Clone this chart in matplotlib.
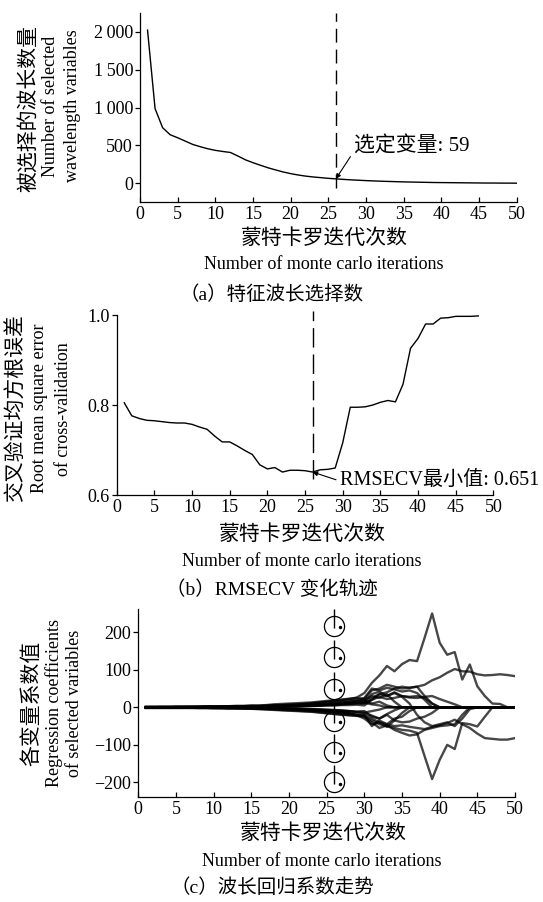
import matplotlib
matplotlib.use("Agg")
import matplotlib.pyplot as plt

plt.rcParams['font.family'] = ['Liberation Serif', 'Noto Sans CJK SC']
plt.rcParams['axes.unicode_minus'] = True

# ---------------- data ----------------
iterations = list(range(1, 51))

n_selected = [2020, 985, 734, 641, 601, 557, 513, 483, 456, 435,
              420, 407, 360, 310, 272, 238, 205, 177, 150, 128,
              110, 95, 84, 75, 66, 59, 52, 46, 41, 36,
              32, 28, 25, 22, 19, 17, 15, 13, 11, 10,
              9, 8, 7, 6, 5, 4, 4, 3, 3, 2]
sel_iter = 26
sel_vars = 59

rmsecv = [0.805, 0.776, 0.770, 0.766, 0.765, 0.763, 0.761, 0.760, 0.760, 0.757,
          0.751, 0.746, 0.731, 0.718, 0.718, 0.709, 0.699, 0.690, 0.667, 0.658,
          0.661, 0.651, 0.655, 0.655, 0.654, 0.651, 0.656, 0.657, 0.660, 0.716,
          0.795, 0.795, 0.796, 0.800, 0.806, 0.810, 0.807, 0.846, 0.926, 0.948,
          0.980, 0.980, 0.993, 0.994, 0.997, 0.997, 0.997, 0.998]
rmsecv_min = 0.651

coef_paths = [
    [1, 1, 1, 1, 1, 1, 1, 1, 2, 2, 2, 2, 3, 3, 4, 4, 5, 6, 6, 7,
     8, 9, 11, 13, 15, 17, 19, 22, 26, 38, 65, 85, 110, 96, 115, 126, 123, 185, 250, 172,
     140, 147, 74, 114, 56, 30, 10, 9, 0, 0],
    [-1, -1, -1, -1, -1, -1, -1, -2, -2, -2, -2, -3, -3, -3, -4, -4, -5, -6, -7, -8,
     -9, -10, -11, -13, -15, -17, -19, -21, -23, -24, -35, -45, -50, -55, -60, -62, -68, -130, -191, -140,
     -100, -111, -42, -45, -51, -25, 0, 0, 0, 0],
    [2, 2, 2, 2, 2, 2, 2, 2, 3, 3, 3, 3, 4, 4, 5, 5, 6, 8, 9, 10,
     11, 12, 13, 15, 17, 19, 21, 23, 25, 22, 45, 50, 60, 55, 50, 52, 55, 60, 72, 80,
     92, 102, 96, 95, 88, 85, 86, 88, 86, 83],
    [-2, -2, -2, -2, -2, -2, -2, -2, -2, -3, -3, -3, -3, -4, -4, -5, -6, -7, -8, -9,
     -10, -11, -12, -14, -16, -18, -20, -21, -22, -20, -30, -40, -45, -50, -48, -52, -55, -58, -52, -48,
     -42, -33, -45, -55, -70, -82, -84, -86, -86, -82],
    [0, 0, 1, 1, 1, 1, 1, 1, 1, 1, 2, 2, 2, 2, 3, 3, 4, 5, 6, 7,
     7, 9, 10, 12, 14, 16, 17, 19, 20, 25, 50, 45, 52, 48, 42, 45, 38, 20, 0, 0,
     0, 0, 0, 0, 0, 0, 0, 0, 0, 0],
    [0, 0, 0, 0, 1, 1, 1, 1, 1, 1, 1, 1, 2, 2, 2, 3, 3, 4, 4, 5,
     6, 7, 8, 9, 10, 11, 12, 14, 16, 15, 35, 42, 30, 40, 30, 28, 30, 25, 10, 0,
     0, 0, 0, 0, 0, 0, 0, 0, 0, 0],
    [0, 0, 0, 0, 0, 0, 1, 1, 1, 1, 1, 1, 1, 1, 2, 2, 2, 3, 3, 4,
     4, 5, 5, 6, 7, 8, 9, 10, 11, 10, 20, 28, 22, 25, 30, 26, 25, 28, 30, 22,
     15, 8, 0, 0, 0, 0, 0, 0, 0, 0],
    [0, 0, 0, 0, 0, 0, 0, 0, 0, 0, 1, 1, 1, 1, 1, 1, 2, 2, 2, 3,
     3, 3, 4, 4, 5, 5, 6, 6, 7, 5, 20, 35, 40, 50, 55, 52, 55, 30, 10, 0,
     0, 0, 0, 0, 0, 0, 0, 0, 0, 0],
    [0, 0, 0, -1, -1, -1, -1, -1, -1, -1, -1, -2, -2, -2, -2, -3, -3, -4, -5, -5,
     -6, -7, -8, -9, -10, -12, -14, -16, -19, -20, -50, -35, -45, -30, -25, -10, 0, 0, 0, 0,
     0, 0, 0, 0, 0, 0, 0, 0, 0, 0],
    [-1, -1, -1, -1, -1, -1, -1, -1, -1, -1, -2, -2, -2, -2, -3, -3, -4, -4, -5, -6,
     -7, -8, -9, -10, -11, -13, -15, -17, -21, -25, -40, -55, -48, -60, -68, -75, -72, -60, -55, -50,
     -48, -45, -20, 0, 0, 0, 0, 0, 0, 0],
    [0, 0, 0, 0, 0, 0, 0, -1, -1, -1, -1, -1, -1, -1, -2, -2, -2, -3, -3, -4,
     -4, -5, -5, -6, -7, -8, -9, -10, -11, -10, -25, -30, -20, -35, -40, -38, -30, -25, -15, 0,
     0, 0, 0, 0, 0, 0, 0, 0, 0, 0],
    [0, 0, 0, 0, 1, 1, 1, 1, 1, 1, 1, 1, 2, 2, 2, 2, 3, 3, 4, 4,
     5, 6, 7, 8, 9, 11, 13, 15, 18, 20, 30, 25, 35, 15, 0, 0, 0, 0, 0, 0,
     0, 0, 0, 0, 0, 0, 0, 0, 0, 0],
    [0, 0, 0, 0, 0, 0, 0, 0, -1, -1, -1, -1, -1, -1, -2, -2, -2, -3, -3, -3,
     -4, -5, -6, -7, -8, -9, -10, -11, -13, -15, -22, -30, -18, -8, 0, 0, 0, 0, 0, 0,
     0, 0, 0, 0, 0, 0, 0, 0, 0, 0],
    [0, 0, 0, 0, 0, 0, 0, 0, 1, 1, 1, 1, 1, 1, 1, 2, 2, 2, 3, 3,
     3, 4, 5, 6, 7, 8, 10, 12, 15, 18, 10, 15, 5, 0, 0, 0, 0, 0, 0, 0,
     0, 0, 0, 0, 0, 0, 0, 0, 0, 0],
    [0, 0, 0, 0, -1, -1, -1, -1, -1, -1, -1, -1, -2, -2, -2, -2, -3, -3, -4, -4,
     -5, -6, -7, -8, -9, -11, -13, -16, -21, -30, -45, -40, -52, -35, -15, 0, 0, 0, 0, 0,
     0, 0, 0, 0, 0, 0, 0, 0, 0, 0],
    [0, 0, 0, 0, 0, 0, 0, 1, 1, 1, 1, 1, 1, 1, 2, 2, 2, 3, 3, 3,
     4, 4, 5, 6, 7, 8, 9, 10, 11, 12, 25, 35, 30, 38, 28, 10, -20, -40, -50, -45,
     -40, -50, -30, -5, 0, 0, 0, 0, 0, 0],
    [0, 0, 0, 0, 0, 0, 0, 0, 0, 0, 0, 1, 1, 1, 1, 1, 2, 2, 2, 3,
     3, 3, 4, 4, 5, 6, 7, 9, 11, 12, 8, 5, 0, 0, 0, 0, 0, 0, 0, 0,
     0, 0, 0, 0, 0, 0, 0, 0, 0, 0],
    [0, 0, 0, 0, 0, 0, 0, 0, 0, 0, 0, 0, -1, -1, -1, -1, -2, -2, -2, -3,
     -3, -4, -4, -5, -6, -7, -8, -10, -13, -14, -10, -6, 0, 0, 0, 0, 0, 0, 0, 0,
     0, 0, 0, 0, 0, 0, 0, 0, 0, 0],
]
marker_y = [217, 133, 48, -36, -118, -200]

xticks = [0, 5, 10, 15, 20, 25, 30, 35, 40, 45, 50]
yticks_a = [0, 500, 1000, 1500, 2000]
ytick_labels_a = ['0', '500', '1\u2009000', '1\u2009500', '2\u2009000']
yticks_b = [0.6, 0.8, 1.0]
ytick_labels_b = ['0.6', '0.8', '1.0']
yticks_c = [-200, -100, 0, 100, 200]

# ---------------- figure ----------------
W, H = 543, 902
fig = plt.figure(figsize=(W / 100, H / 100), dpi=100)

def fx(px):
    return px / W

def fy(py):
    return 1 - py / H

ax_a = fig.add_axes([fx(140), fy(202.3), fx(376.7), (202.3 - 12.7) / H])
ax_b = fig.add_axes([fx(116.7), fy(495), fx(376.7), (495 - 315) / H])
ax_c = fig.add_axes([fx(138.3), fy(796.7), fx(376.7), (796.7 - 609.3) / H])

TICK_FS = 13

def style(ax):
    for s in ['top', 'right']:
        ax.spines[s].set_visible(False)
    for s in ['left', 'bottom']:
        ax.spines[s].set_linewidth(0.9)
    ax.tick_params(axis='x', direction='in', length=3.5, width=0.9, pad=3, labelsize=TICK_FS)
    ax.tick_params(axis='y', direction='out', length=3.5, width=0.9, pad=1.5, labelsize=TICK_FS)
    ax.set_xlim(0, 50)
    ax.set_xticks(xticks)

# Panel a
style(ax_a)
ax_a.plot(iterations, n_selected, color='k', lw=1.0)
ax_a.set_ylim(-250, 2250)
ax_a.set_yticks(yticks_a)
ax_a.set_yticklabels(ytick_labels_a)
ax_a.plot([sel_iter, sel_iter], [-60, 2250], color='k', lw=1.0,
          linestyle=(0, (10, 5)), clip_on=False)
ax_a.annotate('选定变量: %d' % sel_vars, xy=(sel_iter, sel_vars), xytext=(28.4, 490),
              fontsize=15, ha='left', va='center',
              arrowprops=dict(arrowstyle='-|>', color='k', lw=0.8, mutation_scale=7,
                              shrinkA=1, shrinkB=0, relpos=(0, 0.25)))

# Panel b
style(ax_b)
ax_b.plot(iterations[:len(rmsecv)], rmsecv, color='k', lw=1.0)
ax_b.set_ylim(0.6, 1.0)
ax_b.set_yticks(yticks_b)
ax_b.set_yticklabels(ytick_labels_b)
ax_b.plot([sel_iter, sel_iter], [0.636, 1.01], color='k', lw=1.0,
          linestyle=(0, (14, 5)), clip_on=False)
ax_b.annotate('RMSECV最小值: %.3f' % rmsecv_min, xy=(sel_iter, rmsecv_min), xytext=(29.65, 0.633),
              fontsize=14.5, ha='left', va='center', annotation_clip=False,
              arrowprops=dict(arrowstyle='-|>', color='k', lw=0.8, mutation_scale=7,
                              shrinkA=1, shrinkB=0, relpos=(0, 0.45)))

# Panel c
style(ax_c)
for path in coef_paths:
    ax_c.plot(iterations, path, color='k', alpha=0.72, lw=1.7)
ax_c.set_ylim(-238, 261)
ax_c.set_yticks(yticks_c)
ax_c.plot([sel_iter] * len(marker_y), marker_y, linestyle='none', marker='o',
          markersize=14.5, markerfacecolor='none', markeredgecolor='k', markeredgewidth=0.9)
ax_c.vlines([sel_iter] * len(marker_y), [m - 5 for m in marker_y], [m + 46 for m in marker_y],
            color='k', lw=1.0)
ax_c.plot([sel_iter + 0.75] * len(marker_y), [m - 3 for m in marker_y], linestyle='none',
          marker='o', markersize=1.5, color='k')

# Labels
LAB_CN = 15
LAB_EN = 13
ylabels = [
    (29, 108, '被选择的波长数量', LAB_CN),
    (50.2, 106, 'Number of selected', LAB_EN),
    (72.7, 106, 'wavelength variables', LAB_EN),
    (15.6, 408, '交叉验证均方根误差', LAB_CN),
    (39.8, 408, 'Root mean square error', LAB_EN),
    (64, 409, 'of cross-validation', LAB_EN),
    (32.9, 703, '各变量系数值', LAB_CN),
    (53.7, 703, 'Regression coefficients', LAB_EN),
    (74.4, 703, 'of selected variables', LAB_EN),
]
for x, y, t, fs in ylabels:
    fig.text(fx(x), fy(y), t, rotation=90, ha='center', va='center', fontsize=fs)

xlabels = [
    (324, 239, '蒙特卡罗迭代次数', LAB_CN),
    (324, 265, 'Number of monte carlo iterations', LAB_EN),
    (272, 295, '（a）特征波长选择数', 14),
    (302, 535, '蒙特卡罗迭代次数', LAB_CN),
    (302, 562, 'Number of monte carlo iterations', LAB_EN),
    (272, 590, '（b）RMSECV 变化轨迹', 14),
    (323, 834, '蒙特卡罗迭代次数', LAB_CN),
    (322, 861, 'Number of monte carlo iterations', LAB_EN),
    (272, 888, '（c）波长回归系数走势', 14),
]
for x, y, t, fs in xlabels:
    fig.text(fx(x), fy(y), t, ha='center', va='center', fontsize=fs)

fig.savefig('out.png', dpi=100)
